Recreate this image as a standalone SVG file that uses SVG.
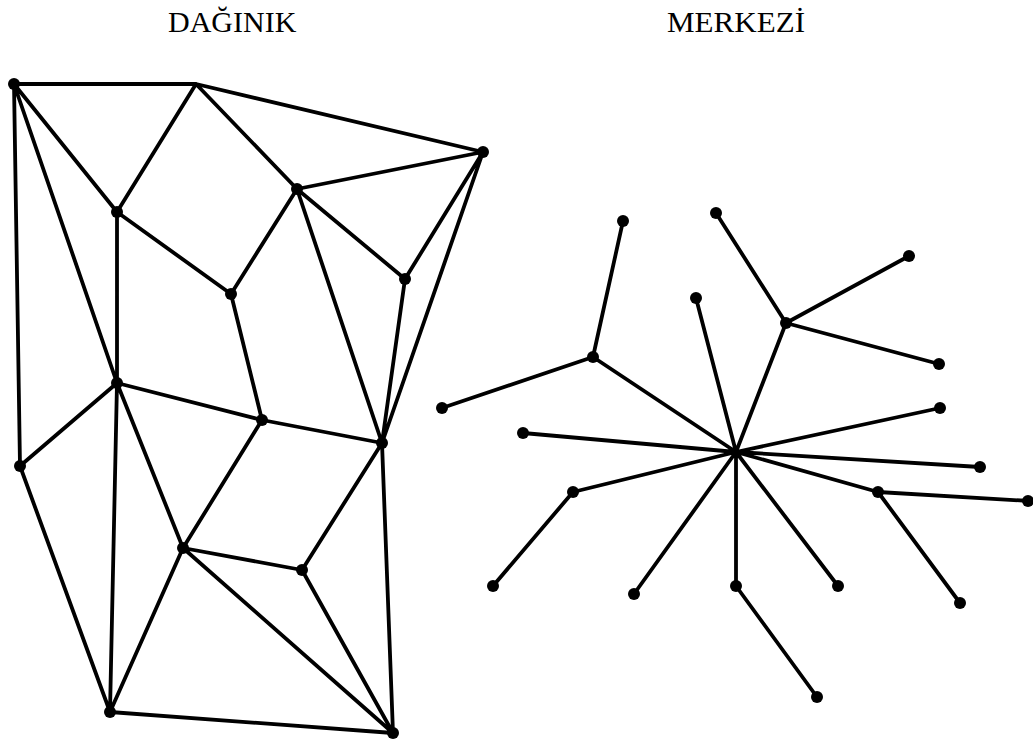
<svg xmlns="http://www.w3.org/2000/svg" width="1033" height="744" viewBox="0 0 1033 744">
<style>
.e{stroke:#000;stroke-width:3.8;stroke-linecap:round;fill:none}
.n{fill:#000}
.t{font-family:"Liberation Serif","Times New Roman",serif;font-size:30px;fill:#000}
</style>
<rect width="1033" height="744" fill="#fff"/>
<text class="t" x="168" y="32">DAĞINIK</text>
<text class="t" x="667" y="32" textLength="138" lengthAdjust="spacingAndGlyphs">MERKEZİ</text>
<g id="connectors">
<path class="e" d="M14 84L196 84M196 84L483 152M14 84L117 212M14 84L117 383M14 84L20 466M196 84L117 212M196 84L297 189M297 189L483 152M297 189L405 279M297 189L231 294M297 189L382 443M483 152L405 279M483 152L382 443M405 279L382 443M117 212L231 294M117 212L117 383M231 294L262 420M117 383L262 420M262 420L382 443M117 383L20 466M117 383L183 548M117 383L110 712M262 420L183 548M382 443L302 570M382 443L393 733M20 466L110 712M183 548L302 570M183 548L110 712M183 548L393 733M302 570L393 733M110 712L393 733"/>
<path class="e" d="M736 452L593 357M593 357L623 221M593 357L442 408M736 452L786 323M786 323L716 213M786 323L909 256M786 323L939 364M736 452L696 298M736 452L940 408M736 452L523 433M736 452L980 467M736 452L878 492M878 492L1030 501M878 492L960 603M736 452L573 492M573 492L493 586M736 452L634 594M736 452L838 586M736 452L736 586M736 586L817 697"/>
</g>
<g id="nodes">
<circle id="A" class="n" cx="14" cy="84" r="6"/>
<circle id="C" class="n" cx="483" cy="152" r="6"/>
<circle id="D" class="n" cx="117" cy="212" r="6"/>
<circle id="E" class="n" cx="297" cy="189" r="6"/>
<circle id="F" class="n" cx="231" cy="294" r="6"/>
<circle id="G" class="n" cx="405" cy="279" r="6"/>
<circle id="H" class="n" cx="117" cy="383" r="6"/>
<circle id="I" class="n" cx="262" cy="420" r="6"/>
<circle id="J" class="n" cx="382" cy="443" r="6"/>
<circle id="K" class="n" cx="20" cy="466" r="6"/>
<circle id="L" class="n" cx="183" cy="548" r="6"/>
<circle id="M" class="n" cx="302" cy="570" r="6"/>
<circle id="N" class="n" cx="110" cy="712" r="6"/>
<circle id="O" class="n" cx="393" cy="733" r="6"/>
<circle id="P" class="n" cx="593" cy="357" r="6"/>
<circle id="Q" class="n" cx="623" cy="221" r="6"/>
<circle id="R" class="n" cx="442" cy="408" r="6"/>
<circle id="S" class="n" cx="786" cy="323" r="6"/>
<circle id="T" class="n" cx="716" cy="213" r="6"/>
<circle id="U" class="n" cx="909" cy="256" r="6"/>
<circle id="V" class="n" cx="939" cy="364" r="6"/>
<circle id="W" class="n" cx="696" cy="298" r="6"/>
<circle id="X" class="n" cx="940" cy="408" r="6"/>
<circle id="Y" class="n" cx="523" cy="433" r="6"/>
<circle id="Z1" class="n" cx="980" cy="467" r="6"/>
<circle id="AA" class="n" cx="573" cy="492" r="6"/>
<circle id="BB" class="n" cx="878" cy="492" r="6"/>
<circle id="CC" class="n" cx="1028" cy="501" r="6"/>
<circle id="DD" class="n" cx="493" cy="586" r="6"/>
<circle id="EE" class="n" cx="634" cy="594" r="6"/>
<circle id="FF" class="n" cx="736" cy="586" r="6"/>
<circle id="GG" class="n" cx="838" cy="586" r="6"/>
<circle id="HH" class="n" cx="960" cy="603" r="6"/>
<circle id="II" class="n" cx="817" cy="697" r="6"/>
</g>
</svg>
